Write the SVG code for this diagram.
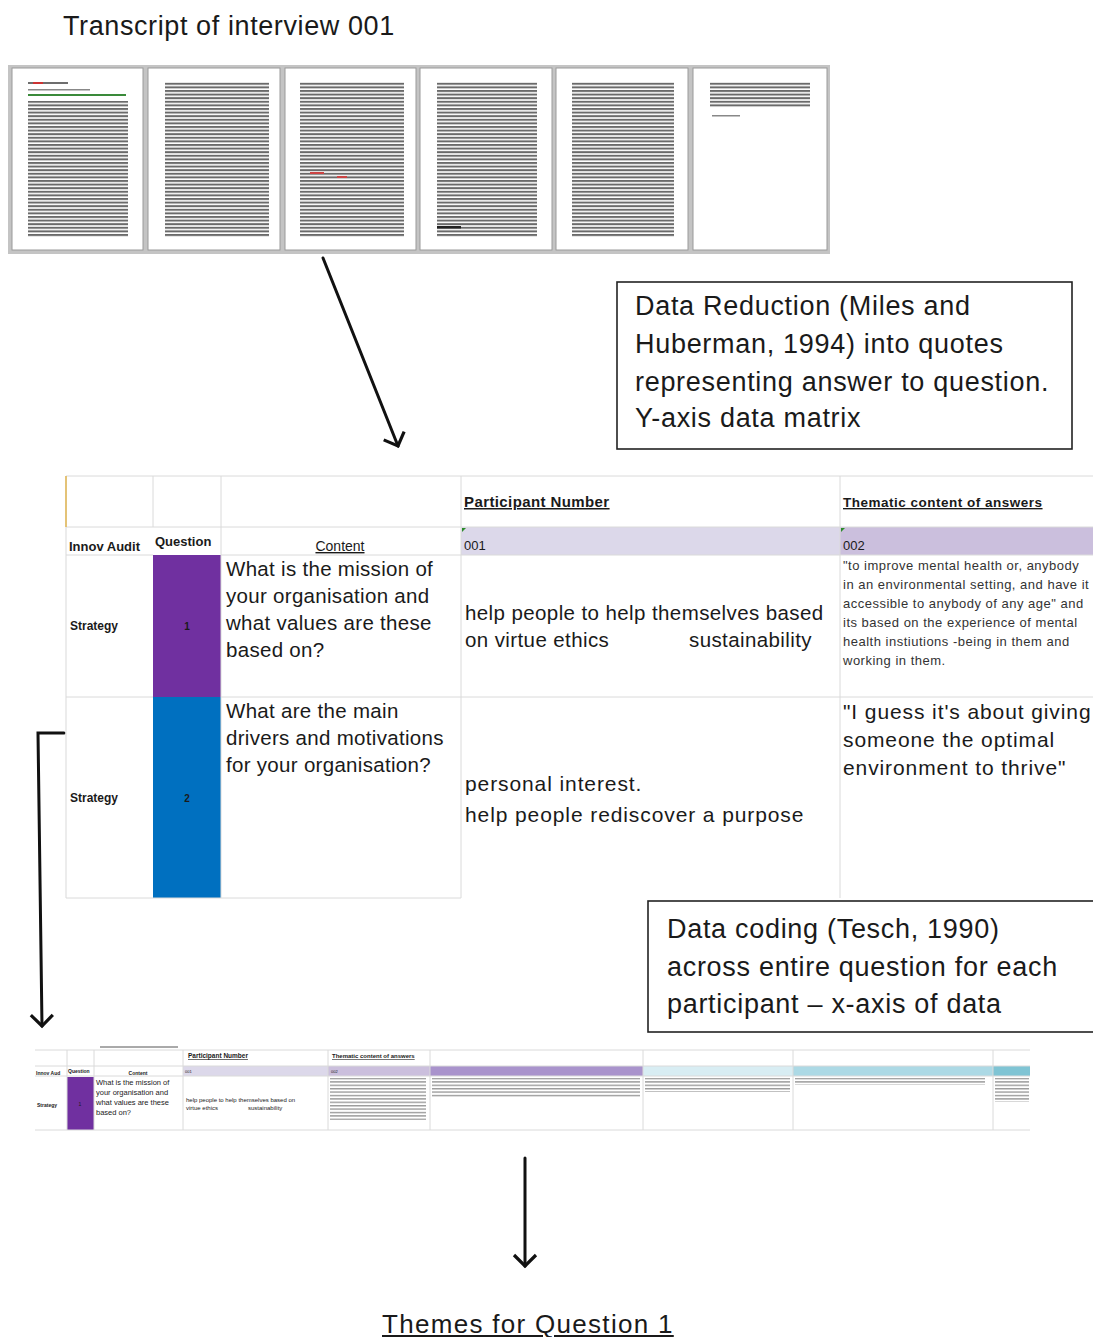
<svg xmlns="http://www.w3.org/2000/svg" width="1093" height="1337" viewBox="0 0 1093 1337">
<defs>
<style>
.t{font-family:"Liberation Sans",Arial,sans-serif;fill:#1a1a1a}
.big{font-size:27px;letter-spacing:0.7px}
.grid{stroke:#dadada;stroke-width:1;fill:none}
.page{fill:#fff;stroke:#9a9a9a;stroke-width:1}
.conn{stroke:#111;stroke-width:3;fill:none;stroke-linecap:round}
.box{fill:#fff;stroke:#222;stroke-width:1.6}
.b{font-weight:bold}
.q{font-size:20.5px;letter-spacing:0.3px}
.a{font-size:21px;letter-spacing:0.9px}
.s{font-size:13px;letter-spacing:0.5px;fill:#333}
</style>
<pattern id="lines" width="8" height="3.6" patternUnits="userSpaceOnUse">
<rect x="0" y="0" width="8" height="2" fill="#6a6a6a"/>
</pattern>
<pattern id="tiny" width="6" height="3.4" patternUnits="userSpaceOnUse">
<rect x="0" y="0" width="6" height="1.4" fill="#9a9a9a"/>
</pattern>
<marker id="arr" viewBox="0 0 28 28" refX="14" refY="14" markerWidth="28" markerHeight="28" markerUnits="userSpaceOnUse" orient="auto">
<path d="M3,3 L14,14 L3,25" fill="none" stroke="#111" stroke-width="3.2" stroke-linejoin="miter"/>
</marker>
</defs>
<rect width="1093" height="1337" fill="#fff"/>

<g id="title">
<text class="t" x="63" y="35" font-size="27" letter-spacing="0.6">Transcript of interview 001</text>
</g>

<g id="transcript">
<rect x="8" y="65" width="822" height="189" fill="#c4c4c4"/>
<rect class="page" x="12" y="68" width="131" height="182"/>
<rect class="page" x="148" y="68" width="132" height="182"/>
<rect class="page" x="285" y="68" width="131" height="182"/>
<rect class="page" x="420" y="68" width="132" height="182"/>
<rect class="page" x="556" y="68" width="132" height="182"/>
<rect class="page" x="693" y="68" width="134" height="182"/>
<rect x="28" y="82" width="40" height="2" fill="#6e6e6e"/>
<rect x="33" y="82" width="10" height="2" fill="#c33"/>
<rect x="28" y="89" width="62" height="1.5" fill="#888"/>
<rect x="28" y="94" width="98" height="2" fill="#3a8a3a"/>
<rect x="28" y="101" width="100" height="136" fill="url(#lines)"/>
<rect x="165" y="82" width="104" height="155" fill="url(#lines)"/>
<rect x="300" y="82" width="104" height="155" fill="url(#lines)"/>
<rect x="310" y="172" width="14" height="2" fill="#c44"/>
<rect x="337" y="176" width="10" height="2" fill="#c44"/>
<rect x="437" y="82" width="100" height="155" fill="url(#lines)"/>
<rect x="437" y="226" width="24" height="2.5" fill="#222"/>
<rect x="572" y="82" width="102" height="155" fill="url(#lines)"/>
<rect x="710" y="82" width="100" height="26" fill="url(#lines)"/>
<rect x="712" y="115" width="28" height="1.5" fill="#888"/>
</g>

<g id="connectors">
<line class="conn" x1="323" y1="258" x2="398" y2="446" marker-end="url(#arr)"/>
<polyline class="conn" points="64,733 38,733 42,1026" marker-end="url(#arr)"/>
<line class="conn" x1="525" y1="1158" x2="525" y2="1266" marker-end="url(#arr)"/>
</g>

<g id="note-reduction">
<rect class="box" x="617" y="282" width="455" height="167"/>
<text class="t big" x="635" y="315">Data Reduction (Miles and</text>
<text class="t big" x="635" y="353">Huberman,  1994) into quotes</text>
<text class="t big" x="635" y="391">representing answer to question.</text>
<text class="t big" x="635" y="427">Y-axis  data matrix</text>
</g>

<g id="matrix">
<rect x="461" y="527" width="379" height="28" fill="#dcd8ea"/>
<rect x="840" y="527" width="253" height="28" fill="#cbbfdd"/>
<rect x="153" y="555" width="68" height="142" fill="#7030a0"/>
<rect x="153" y="697" width="68" height="201" fill="#0070c0"/>
<path class="grid" d="M66,476 H1093 M66,527 H1093 M66,555 H153 M221,555 H1093 M66,697 H153 M221,697 H1093 M66,898 H461 M153,476 V527 M221,476 V898 M461,476 V898 M840,476 V898"/>
<line x1="66" y1="476" x2="66" y2="898" stroke="#d9d9d9"/>
<line x1="66" y1="476" x2="66" y2="527" stroke="#e2b650" stroke-width="1.5"/>
<path d="M462,528 l4,0 l-4,4 z" fill="#2a8a2a"/>
<path d="M841,528 l4,0 l-4,4 z" fill="#2a8a2a"/>
<text class="t b" x="464" y="507" font-size="15" letter-spacing="0.4" text-decoration="underline">Participant Number</text>
<text class="t b" x="843" y="507" font-size="13.5" letter-spacing="0.5" text-decoration="underline" fill="#333">Thematic content of answers</text>
<text class="t b" x="69" y="551" font-size="13" fill="#333">Innov Audit</text>
<text class="t b" x="155" y="546" font-size="13" fill="#333">Question</text>
<text class="t" x="340" y="551" font-size="14" text-anchor="middle" text-decoration="underline" fill="#333">Content</text>
<text class="t" x="464" y="550" font-size="13" fill="#333">001</text>
<text class="t" x="843" y="550" font-size="13" fill="#333">002</text>
<text class="t b" x="70" y="630" font-size="12" fill="#333">Strategy</text>
<text class="t b" x="187" y="630" font-size="10" text-anchor="middle" fill="#222">1</text>
<text class="t q" x="226" y="576">What is the mission of</text>
<text class="t q" x="226" y="603">your organisation and</text>
<text class="t q" x="226" y="630">what values are these</text>
<text class="t q" x="226" y="657">based on?</text>
<text class="t" x="465" y="620" font-size="20.5" letter-spacing="0.4">help people to help themselves based</text>
<text class="t" x="465" y="647" font-size="20.5" letter-spacing="0.4">on virtue ethics</text>
<text class="t" x="689" y="647" font-size="20.5" letter-spacing="0.4">sustainability</text>
<text class="t s" x="843" y="570">"to improve mental health or, anybody</text>
<text class="t s" x="843" y="589">in an environmental setting, and have it</text>
<text class="t s" x="843" y="608">accessible to anybody of any age" and</text>
<text class="t s" x="843" y="627">its based on the experience of mental</text>
<text class="t s" x="843" y="646">health instiutions -being in them and</text>
<text class="t s" x="843" y="665">working in them.</text>
<text class="t b" x="70" y="802" font-size="12" fill="#333">Strategy</text>
<text class="t b" x="187" y="802" font-size="10" text-anchor="middle" fill="#0b2a55">2</text>
<text class="t q" x="226" y="718">What are the main</text>
<text class="t q" x="226" y="745">drivers and motivations</text>
<text class="t q" x="226" y="772">for your organisation?</text>
<text class="t a" x="465" y="791">personal interest.</text>
<text class="t a" x="465" y="822">help people rediscover a purpose</text>
<text class="t a" x="843" y="719">"I guess it's about giving</text>
<text class="t a" x="843" y="747">someone the optimal</text>
<text class="t a" x="843" y="775">environment to thrive"</text>
</g>

<g id="note-coding">
<rect class="box" x="648" y="901" width="447" height="131"/>
<text class="t big" x="667" y="938">Data coding (Tesch, 1990)</text>
<text class="t big" x="667" y="976">across entire question for each</text>
<text class="t big" x="667" y="1013">participant  – x-axis  of data</text>
</g>

<g id="coded-matrix">
<rect x="183" y="1066" width="145" height="10" fill="#dcd8ea"/>
<rect x="328" y="1066" width="102" height="10" fill="#cbbfdd"/>
<rect x="430" y="1066" width="213" height="10" fill="#a993cc"/>
<rect x="643" y="1066" width="150" height="10" fill="#d8edf3"/>
<rect x="793" y="1066" width="200" height="10" fill="#acd9e5"/>
<rect x="993" y="1066" width="37" height="10" fill="#7fc4d4"/>
<rect x="67" y="1077" width="27" height="53" fill="#7030a0"/>
<line x1="100" y1="1047" x2="178" y2="1047" stroke="#555" stroke-width="1"/>
<path class="grid" d="M35,1050 H1030 M35,1066 H1030 M35,1076 H1030 M35,1130 H1030 M67,1050 V1130 M94,1050 V1130 M183,1050 V1130 M328,1050 V1130 M430,1050 V1130 M643,1050 V1130 M793,1050 V1130 M993,1050 V1130"/>
<text class="t b" x="188" y="1058" font-size="6.5" text-decoration="underline">Participant Number</text>
<text class="t b" x="332" y="1058" font-size="6" text-decoration="underline">Thematic content of answers</text>
<text class="t b" x="36" y="1075" font-size="5" fill="#333">Innov Aud</text>
<text class="t b" x="68" y="1073" font-size="5" fill="#333">Question</text>
<text class="t b" x="138" y="1075" font-size="5" text-anchor="middle" fill="#333">Content</text>
<text class="t" x="185" y="1073" font-size="4" fill="#333">001</text>
<text class="t" x="331" y="1073" font-size="4" fill="#333">002</text>
<text class="t b" x="37" y="1107" font-size="5" fill="#333">Strategy</text>
<text class="t" x="80" y="1106" font-size="5" text-anchor="middle" fill="#222">1</text>
<text class="t" x="96" y="1085" font-size="7.5" fill="#444">What is the mission of</text>
<text class="t" x="96" y="1095" font-size="7.5" fill="#444">your organisation and</text>
<text class="t" x="96" y="1105" font-size="7.5" fill="#444">what values are these</text>
<text class="t" x="96" y="1115" font-size="7.5" fill="#444">based on?</text>
<text class="t" x="186" y="1102" font-size="6" fill="#444">help people to help themselves based on</text>
<text class="t" x="186" y="1110" font-size="6" fill="#444">virtue ethics</text>
<text class="t" x="248" y="1110" font-size="6" fill="#444">sustainability</text>
<rect x="330" y="1078" width="96" height="42" fill="url(#tiny)"/>
<rect x="432" y="1078" width="208" height="20" fill="url(#tiny)"/>
<rect x="645" y="1078" width="145" height="14" fill="url(#tiny)"/>
<rect x="795" y="1078" width="190" height="7" fill="url(#tiny)"/>
<rect x="995" y="1078" width="34" height="24" fill="url(#tiny)"/>
</g>

<g id="themes">
<text class="t" x="382" y="1333" font-size="26" letter-spacing="1.3" text-decoration="underline">Themes for Question 1</text>
</g>
</svg>
